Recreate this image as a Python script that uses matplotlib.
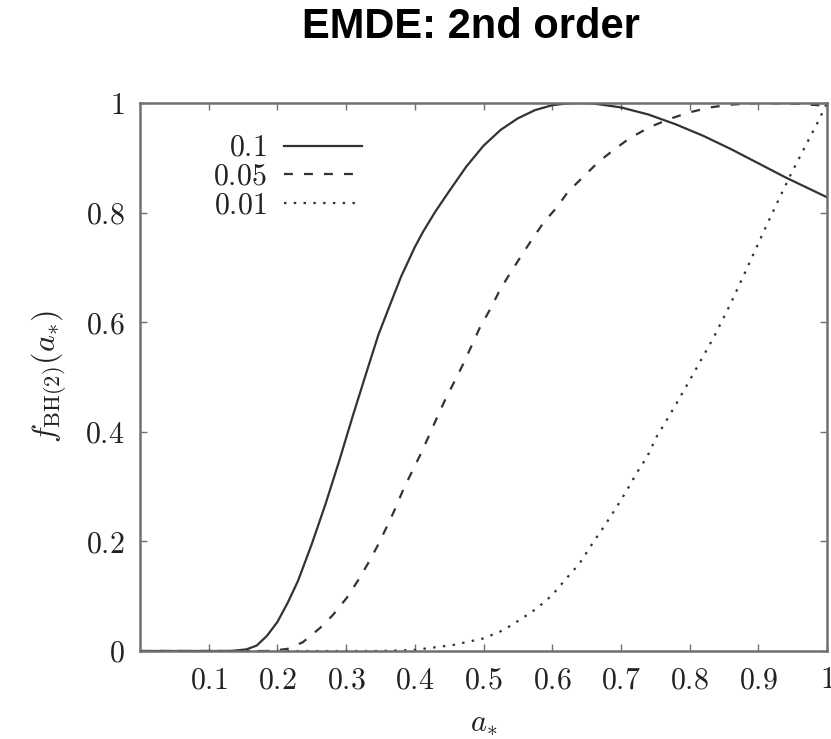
import matplotlib
matplotlib.use("Agg")
import matplotlib.pyplot as plt
from matplotlib.ticker import FixedLocator

plt.rcParams['mathtext.fontset'] = 'cm'
plt.rcParams['font.family'] = ['DejaVu Serif']

title = "EMDE: 2nd order"
series_labels = ["0.1", "0.05", "0.01"]

a_01 = [0.0, 0.10, 0.13, 0.14, 0.155, 0.17, 0.185, 0.20, 0.215, 0.23, 0.25, 0.27, 0.29,
        0.31, 0.33, 0.347, 0.364, 0.38, 0.40, 0.412, 0.43, 0.45, 0.475, 0.50, 0.525,
        0.55, 0.575, 0.60, 0.62, 0.64, 0.66, 0.70, 0.74, 0.78, 0.82, 0.86, 0.90, 0.94,
        0.97, 1.0]
f_01 = [0.0, 0.0, 0.0, 0.001, 0.003, 0.010, 0.028, 0.053, 0.088, 0.128, 0.195, 0.268,
        0.347, 0.430, 0.510, 0.577, 0.632, 0.683, 0.737, 0.765, 0.802, 0.839, 0.884,
        0.922, 0.951, 0.972, 0.987, 0.996, 0.999, 1.0, 0.999, 0.992, 0.979, 0.961,
        0.940, 0.916, 0.890, 0.864, 0.846, 0.828]

a_005 = [0.0, 0.19, 0.215, 0.237, 0.262, 0.281, 0.301, 0.318, 0.332, 0.345, 0.359, 0.372,
         0.383, 0.395, 0.408, 0.420, 0.432, 0.444, 0.459, 0.471, 0.495, 0.509, 0.524,
         0.539, 0.556, 0.570, 0.587, 0.607, 0.623, 0.645, 0.667, 0.689, 0.713, 0.742,
         0.771, 0.80, 0.83, 0.86, 0.90, 0.95, 1.0]
f_005 = [0.0, 0.0, 0.004, 0.016, 0.042, 0.066, 0.097, 0.130, 0.160, 0.190, 0.226, 0.261,
         0.294, 0.325, 0.358, 0.391, 0.425, 0.458, 0.495, 0.525, 0.591, 0.622, 0.659,
         0.690, 0.723, 0.750, 0.781, 0.810, 0.838, 0.865, 0.892, 0.914, 0.936, 0.956,
         0.971, 0.983, 0.992, 0.997, 1.0, 0.999, 0.995]

a_001 = [0.0, 0.35, 0.40, 0.456, 0.500, 0.529, 0.553, 0.578, 0.600, 0.621, 0.640, 0.660,
         0.677, 0.694, 0.709, 0.723, 0.738, 0.752, 0.767, 0.781, 0.796, 0.810, 0.835,
         0.859, 0.883, 0.907, 0.932, 0.949, 0.970, 0.987, 1.0]
f_001 = [0.0, 0.0, 0.002, 0.011, 0.023, 0.038, 0.057, 0.078, 0.102, 0.133, 0.160, 0.199,
         0.230, 0.263, 0.294, 0.325, 0.354, 0.391, 0.422, 0.452, 0.485, 0.516, 0.572,
         0.632, 0.697, 0.763, 0.830, 0.874, 0.925, 0.966, 1.0]

x_ticks = [0.1, 0.2, 0.3, 0.4, 0.5, 0.6, 0.7, 0.8, 0.9, 1.0]
x_tick_labels = ["0.1", "0.2", "0.3", "0.4", "0.5", "0.6", "0.7", "0.8", "0.9", "1"]
y_ticks = [0.0, 0.2, 0.4, 0.6, 0.8, 1.0]
y_tick_labels = ["0", "0.2", "0.4", "0.6", "0.8", "1"]

W, H = 831, 739
fig = plt.figure(figsize=(W / 100, H / 100), dpi=100)
ax = fig.add_axes([140 / W, 1 - 651 / H, (827 - 140) / W, (651 - 103) / H])

line_color = "#333333"
ax.plot(a_01, f_01, color=line_color, lw=1.6, label=series_labels[0])
ax.plot(a_005, f_005, color=line_color, lw=1.6, dashes=(4, 5), label=series_labels[1])
ax.plot(a_001, f_001, color=line_color, lw=1.6, dashes=(1.1, 3.3), label=series_labels[2])

ax.set_xlim(0, 1)
ax.set_ylim(0, 1)

ax.xaxis.set_major_locator(FixedLocator(x_ticks))
ax.yaxis.set_major_locator(FixedLocator(y_ticks))
ax.set_xticklabels(["$" + s + "$" for s in x_tick_labels])
ax.set_yticklabels(["$" + s + "$" for s in y_tick_labels])

spine_color = "#707070"
for s in ax.spines.values():
    s.set_color(spine_color)
    s.set_linewidth(1.8)
ax.tick_params(direction="in", length=5, width=1.0, color=spine_color,
               top=True, right=True, labelsize=21.5, labelcolor="#222222", pad=11)

ax.set_xlabel(r"$a_{*}$", fontsize=22, color="#222222", labelpad=9)
ax.set_ylabel(r"$f_{\rm BH(2)}(a_{*})$", fontsize=23, color="#222222", labelpad=12)

leg = ax.legend(loc="upper right", bbox_to_anchor=(362 / W, 1 - 134 / H),
                bbox_transform=fig.transFigure, frameon=False, markerfirst=False,
                fontsize=21.5, handlelength=2.6, handletextpad=0.6, labelspacing=0.02,
                borderpad=0, borderaxespad=0)
for t in leg.get_texts():
    t.set_color("#222222")
    t.set_text("$" + t.get_text() + "$")

fig.text(471 / W, 1 - 27 / H, title, ha="center", va="center", fontsize=30,
         fontweight="bold", family=["Liberation Sans", "DejaVu Sans"])

fig.savefig("out.png", dpi=100)
